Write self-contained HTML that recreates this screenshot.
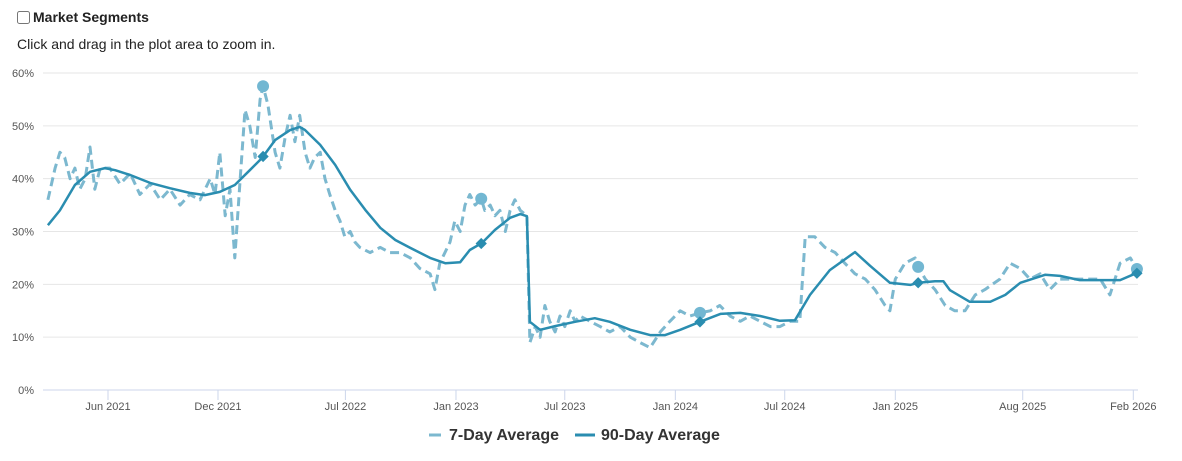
<!DOCTYPE html>
<html><head><meta charset="utf-8"><style>
body{margin:0;background:#fff;font-family:"Liberation Sans",Arial,sans-serif;width:1182px;height:461px;overflow:hidden;position:relative}
.hdr{position:absolute;left:17px;top:9px;font-weight:bold;font-size:14px;color:#222;display:flex;align-items:center}
.hdr input{margin:0 3px 0 0;width:13px;height:13px}
.sub{position:absolute;left:17px;top:36px;font-size:14px;color:#222}
svg{position:absolute;left:0;top:0}
</style></head><body>
<div class="hdr"><input type="checkbox">Market Segments</div>
<div class="sub">Click and drag in the plot area to zoom in.</div>
<svg id="chart" width="1182" height="461"></svg>
<script>
// days offset from 2021-06-01
const d90 = [-100,-80,-55,-30,-5,12,37,70,103,136,161,186,211,236,256,278,303,319,328,353,378,403,428,453,478,503,536,561,586,602,622,644,669,686,697,702,719,744,777,810,835,869,902,927,952,985,1019,1052,1085,1118,1143,1168,1201,1243,1268,1301,1335,1348,1376,1390,1401,1434,1468,1493,1518,1559,1584,1617,1651,1684,1711];
const v90 = [31.2,34,38.8,41.3,42,41.6,40.7,39.2,38.2,37.3,36.9,37.5,38.8,41.6,43.9,47.3,49.2,49.8,49.2,46.4,42.6,37.9,34.1,30.7,28.4,26.9,25,24,24.2,26.5,27.8,30.3,32.6,33.3,32.9,12.9,11.4,12.1,12.9,13.6,12.9,11.4,10.4,10.4,11.4,12.9,14.4,14.6,14,13.1,13.2,18,22.7,26.1,23.5,20.3,19.9,20.3,20.6,20.6,18.9,16.7,16.7,18,20.3,21.8,21.6,20.8,20.8,20.8,22.1];
const d7 = [-100,-88,-80,-72,-63,-55,-47,-38,-30,-22,-13,3,20,37,53,70,87,103,120,136,153,170,178,186,195,203,211,220,228,236,245,253,258,266,278,286,295,303,311,319,328,336,344,353,361,369,378,386,394,403,411,419,436,453,469,486,503,519,536,544,552,569,577,586,594,602,611,621,627,636,644,652,661,669,677,686,697,702,711,719,727,735,744,752,760,769,777,785,802,819,835,852,869,885,902,919,935,952,968,985,1002,1018,1035,1052,1068,1085,1102,1118,1135,1151,1160,1176,1193,1210,1226,1243,1260,1276,1293,1301,1310,1326,1343,1348,1360,1376,1393,1409,1426,1443,1459,1484,1501,1518,1534,1551,1567,1584,1601,1617,1634,1651,1667,1684,1701,1712];
const v7 = [36,42,45,44,40,42,38,40,46,38,42,42,39,41,37,39,36,38,35,37,36,40,37,45,33,38,25,40,53,50,44,55,57.5,54,45,42,48,52,47,52,45,42,44,45,40,37,34,32,29,30,28,27,26,27,26,26,25,23,22,19,24,28,32,30,35,37,35,36.2,34,35,33,34,30,34,36,34,33,9,12,10,16,13,11,14,12,15,13,14,13,12,11,12,10,9,8,11,13,15,14,14.6,15,16,14,13,14,13,12,12,13,13,29,29,27,26,24,22,21,19,16,15,21,24,25,23.3,21,19,16,15,15,18,19,21,24,23,21,22,19,21,21,21,21,21,18,24,25,22.9];
const markDays = [258,621,985,1348,1712];
const tickLabels = ["Jun 2021","Dec 2021","Jul 2022","Jan 2023","Jul 2023","Jan 2024","Jul 2024","Jan 2025","Aug 2025","Feb 2026"];
const tickDays = [0,183,395,579,760,944,1126,1310,1522,1706];
const yTicks = [0,10,20,30,40,50,60];

const NS="http://www.w3.org/2000/svg", svg=document.getElementById('chart');
const X=d=>108+d*0.601, Y=v=>390-v*5.283;
function mk(t,a,p){const e=document.createElementNS(NS,t);for(const k in a)e.setAttribute(k,a[k]);(p||svg).appendChild(e);return e;}
yTicks.forEach(t=>{
  const g=mk('line',{x1:43,x2:1138,y1:Y(t),y2:Y(t),stroke:t?'#e6e6e6':'#ccd6eb','stroke-width':1});
  
  
  const l=mk('text',{x:34,y:Y(t)+4,'text-anchor':'end','font-size':11,fill:'#555'});l.textContent=t+'%';
  
  
});
tickDays.forEach((d,i)=>{
  const tk=mk('line',{x1:X(d),x2:X(d),y1:390,y2:400,stroke:'#ccd6eb'});
  
  
  const l=mk('text',{x:X(d),y:410,'text-anchor':'middle','font-size':11,fill:'#555'});l.textContent=tickLabels[i];
  
  
});
function path(ds,vs){return ds.map((d,i)=>(i?'L':'M')+X(d).toFixed(1)+' '+Y(vs[i]).toFixed(1)).join('');}
const p7=mk('path',{d:path(d7,v7),fill:'none',stroke:'#7cb8cf','stroke-width':3,'stroke-dasharray':'9,5','stroke-linejoin':'round'});


const p90=mk('path',{d:path(d90,v90),fill:'none',stroke:'#2a8db0','stroke-width':2.5,'stroke-linejoin':'round'});


function interp(ds,vs,d){for(let i=1;i<ds.length;i++){if(d<=ds[i]){const t=(d-ds[i-1])/(ds[i]-ds[i-1]);return vs[i-1]+t*(vs[i]-vs[i-1]);}}return vs[vs.length-1];}
markDays.forEach(d=>{
  const c=mk('circle',{cx:X(d),cy:Y(interp(d7,v7,d)),r:6,fill:'#72b7d2'});
  
  
  const x=X(d),y=Y(interp(d90,v90,d));
  const r=mk('rect',{x:x-4,y:y-4,width:8,height:8,fill:'#2a8db0',transform:`rotate(45 ${x} ${y})`});
  
  
});
// legend
const l1=mk('line',{x1:429,x2:441,y1:435,y2:435,stroke:'#7cb8cf','stroke-width':3});


const t1=mk('text',{x:449,y:440,'font-size':16,'font-weight':'bold',fill:'#333'});t1.textContent='7-Day Average';


const l2=mk('line',{x1:575,x2:595,y1:435,y2:435,stroke:'#2a8db0','stroke-width':3});


const t2=mk('text',{x:601,y:440,'font-size':16,'font-weight':'bold',fill:'#333'});t2.textContent='90-Day Average';


</script>
</body></html>
